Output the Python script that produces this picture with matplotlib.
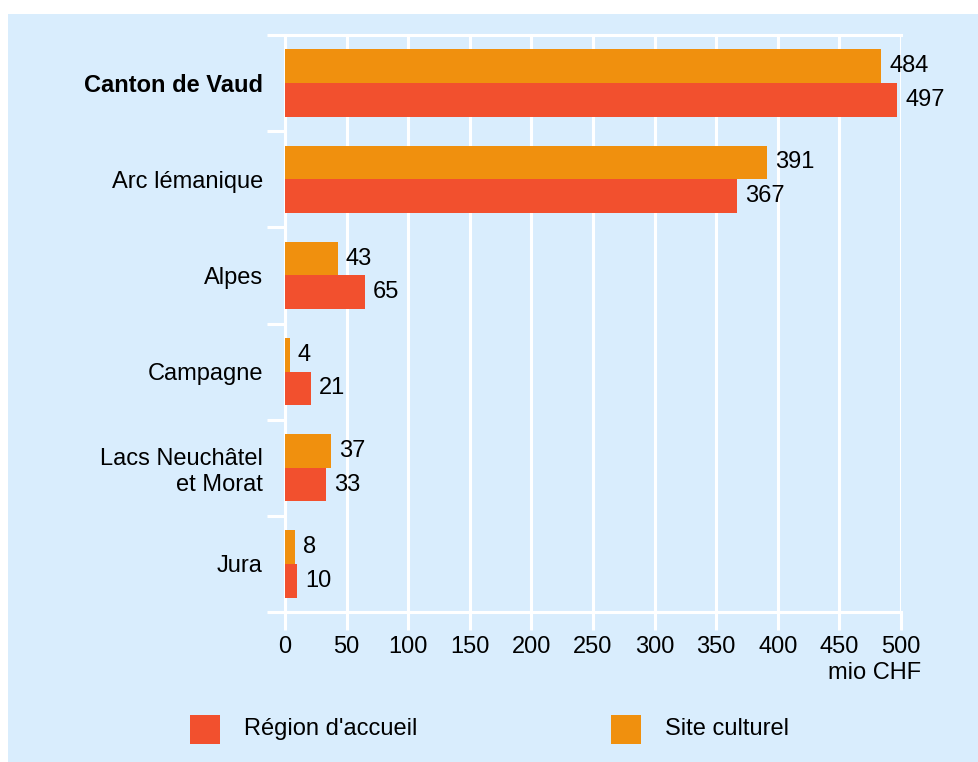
import numpy as np
import matplotlib.pyplot as plt
from matplotlib.patches import Rectangle

plt.rcParams['font.family'] = ['Liberation Sans', 'DejaVu Sans']

regions = ['Canton de Vaud', 'Arc lémanique', 'Alpes', 'Campagne',
           'Lacs Neuchâtel\net Morat', 'Jura']
site_culturel = [484, 391, 43, 4, 37, 8]
region_accueil = [497, 367, 65, 21, 33, 10]
series_names = ["Région d'accueil", 'Site culturel']
xticks = [0, 50, 100, 150, 200, 250, 300, 350, 400, 450, 500]
unit = 'mio CHF'

bg = '#d9edfd'
c_red = '#f2502e'
c_orange = '#f0900e'
fs = 17

fig = plt.figure(figsize=(9.79, 7.62), dpi=100)
fig.patch.set_facecolor('white')
fig.add_artist(Rectangle((8/979, 0), 1, (762-14)/762, transform=fig.transFigure,
                         facecolor=bg, edgecolor='none', zorder=-10))

ax = fig.add_axes([285/979, 1-612/762, (901-285)/979, (612-35)/762])
ax.set_facecolor(bg)

y = np.arange(len(regions))
h = 0.35
ax.barh(y - h/2, site_culturel, height=h, color=c_orange, zorder=3)
ax.barh(y + h/2, region_accueil, height=h, color=c_red, zorder=3)

for i in range(len(regions)):
    ax.annotate(str(site_culturel[i]), (site_culturel[i], y[i] - h/2),
                xytext=(8, 0), textcoords='offset pixels', va='center', ha='left', fontsize=fs)
    ax.annotate(str(region_accueil[i]), (region_accueil[i], y[i] + h/2),
                xytext=(8, 0), textcoords='offset pixels', va='center', ha='left', fontsize=fs)

ax.set_xlim(0, 500)
ax.set_ylim(len(regions) - 0.5, -0.5)

ax.set_xticks(xticks)
ax.set_xticklabels([str(t) for t in xticks], fontsize=fs)
ax.tick_params(axis='x', length=13, width=2.2, color='white', pad=4)
ax.grid(axis='x', color='white', linewidth=2.2, zorder=1)

ax.set_yticks(np.arange(-0.5, len(regions)), minor=True)
ax.set_yticks(y)
ax.set_yticklabels(regions, fontsize=fs, linespacing=1.2)
ax.get_yticklabels()[0].set_fontweight('bold')
ax.tick_params(axis='y', which='major', length=0, pad=16)
ax.tick_params(axis='y', which='minor', length=13, width=2.2, color='white')

for s in ['top', 'bottom', 'left']:
    ax.spines[s].set_color('white')
    ax.spines[s].set_linewidth(2.2)
    ax.spines[s].set_zorder(2)
ax.spines['right'].set_visible(False)

fig.text(921/979, 1-673/762, unit, ha='right', va='center', fontsize=fs)

# legend
leg_x = [190, 611]
leg_colors = [c_red, c_orange]
for name, lx, col in zip(series_names, leg_x, leg_colors):
    fig.add_artist(Rectangle((lx/979, 1-744/762), 30/979, 29/762,
                             transform=fig.transFigure, facecolor=col, edgecolor='none'))
    fig.text((lx+54)/979, 1-729/762, name, ha='left', va='center', fontsize=fs)

fig.savefig('out.png', dpi=100, facecolor=fig.get_facecolor())
